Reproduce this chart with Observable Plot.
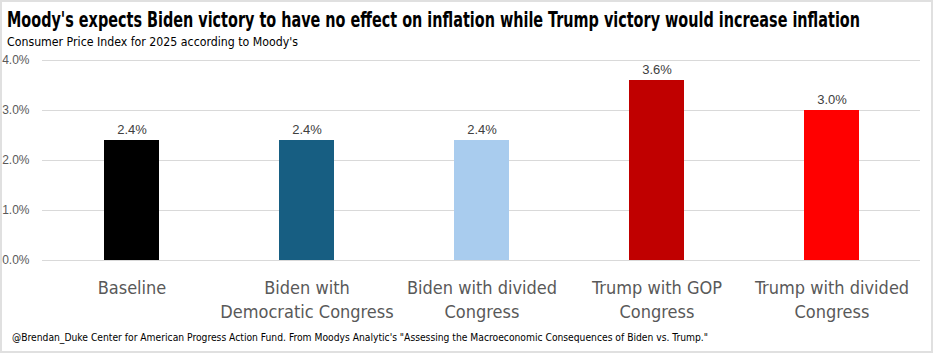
<!DOCTYPE html>
<html><head><meta charset="utf-8">
<script src="https://cdn.jsdelivr.net/npm/d3@7"></script>
<script src="https://cdn.jsdelivr.net/npm/@observablehq/plot@0.6"></script>
<style>
html,body{margin:0;padding:0;background:#fff;}
#wrap{position:relative;width:933px;height:353px;overflow:hidden;background:#fff;}
.t{position:absolute;white-space:nowrap;transform-origin:0 50%;}
#title{left:7px;top:8px;font-weight:bold;font-size:21px;line-height:24px;color:#000;font-family:"Liberation Sans Narrow","DejaVu Sans Condensed","Roboto",sans-serif;}
#subtitle{left:7px;top:34px;font-size:13px;line-height:16px;color:#000;font-family:"Liberation Sans Narrow","DejaVu Sans Condensed","Roboto",sans-serif;}
#footer{left:12px;top:331px;font-size:10.5px;line-height:13px;color:#000;font-family:"Liberation Sans Narrow","DejaVu Sans Condensed","Roboto",sans-serif;}
#chart{position:absolute;left:0;top:50px;}
#border{position:absolute;left:0;top:0;width:933px;height:353px;box-sizing:border-box;border:2px solid #e0e0e0;pointer-events:none;}
</style></head>
<body>
<div id="wrap">
  <div id="title" class="t">Moody's expects Biden victory to have no effect on inflation while Trump victory would increase inflation</div>
  <div id="subtitle" class="t">Consumer Price Index for 2025 according to Moody's</div>
  <div id="chart"></div>
  <div id="footer" class="t">@Brendan_Duke Center for American Progress Action Fund. From Moodys Analytic's "Assessing the Macroeconomic Consequences of Biden vs. Trump."</div>
  <div id="border"></div>
</div>
<script>
const categories = ["Baseline", "Biden with\nDemocratic Congress", "Biden with divided\nCongress", "Trump with GOP\nCongress", "Trump with divided\nCongress"];
const values = [2.4, 2.4, 2.4, 3.6, 3.0];
const colors = ["#000000", "#175E82", "#A9CCEE", "#C00000", "#FF0000"];
const yTicks = [0, 1, 2, 3, 4];

const data = categories.map((c, i) => ({category: c, value: values[i], color: colors[i]}));
const pct = d => d.toFixed(1) + "%";

const chart = Plot.plot({
  width: 933,
  height: 275,
  marginTop: 10,
  marginBottom: 65,
  marginLeft: 42,
  marginRight: 13,
  style: {background: "transparent", fontFamily: "'Liberation Sans', Arial, sans-serif"},
  x: {domain: categories, padding: 0, axis: null},
  y: {domain: [0, 4], axis: null},
  color: {type: "identity"},
  marks: [
    Plot.gridY(yTicks, {stroke: "#d9d9d9", strokeOpacity: 1, strokeWidth: 1}),
    Plot.axisY(yTicks, {tickSize: 0, tickPadding: 13, tickFormat: pct, fontSize: 12, fill: "#595959", label: null}),
    Plot.barY(data, {x: "category", y: "value", fill: "color", insetLeft: 60, insetRight: 60}),
    Plot.text(data, {x: "category", y: "value", text: d => pct(d.value), lineAnchor: "bottom", dy: -7, fontSize: 13, fill: "#404040"}),
    Plot.axisX({tickSize: 0, tickPadding: 17, fontSize: 18, lineHeight: 1.3, fill: "#595959", label: null,
      fontFamily: "'Liberation Sans Narrow','DejaVu Sans Condensed',sans-serif"})
  ]
});
document.getElementById("chart").appendChild(chart);

function fit(id, w) {
  const el = document.getElementById(id);
  const cur = el.getBoundingClientRect().width;
  if (cur > 0) el.style.transform = `scaleX(${w / cur})`;
}
fit("title", 853);
fit("subtitle", 291);
fit("footer", 696);
</script>
</body></html>
